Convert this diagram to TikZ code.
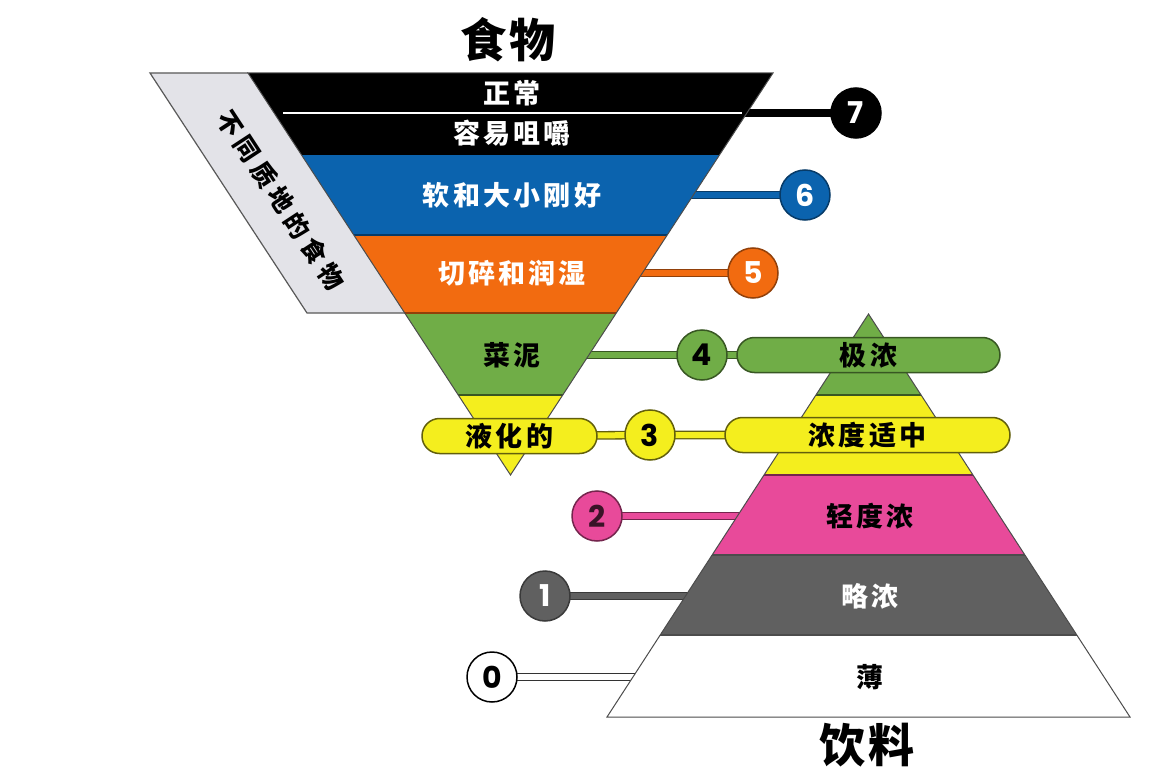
\documentclass[tikz,border=0pt]{standalone}
\usepackage{fontspec}
\setmainfont{Noto Sans CJK SC}
\newfontfamily\numfont{Poppins}
\usetikzlibrary{shapes.misc}
\pgfdeclarelayer{bg}
\pgfdeclarelayer{conn}
\pgfdeclarelayer{tri}
\pgfsetlayers{bg,conn,tri,main}
\definecolor{cblue}{HTML}{0B63AE}
\definecolor{corange}{HTML}{F26B10}
\definecolor{cgreen}{HTML}{70AD47}
\definecolor{cyellow}{HTML}{F4EE1E}
\definecolor{cpink}{HTML}{E84A9A}
\definecolor{cgray}{HTML}{606060}
\definecolor{cpanel}{HTML}{E3E3E8}
\begin{document}
\begin{tikzpicture}[x=1pt,y=-1pt,
  lvl/.style={font=\fontsize{27}{29}\selectfont\bfseries\addfontfeature{LetterSpace=12}},
  num/.style={circle, minimum size=50pt, inner sep=0pt, line width=1.5pt, font=\numfont\fontsize{30}{30}\selectfont\bfseries},
  conn/.style={line width=1.3pt, double distance=6pt},
  pill/.style={rounded rectangle, minimum height=35pt, inner sep=0pt, line width=1.5pt, lvl},
  title/.style={font=\fontsize{46}{48}\selectfont\bfseries\addfontfeature{LetterSpace=5}},
  side/.style={font=\fontsize{25}{27}\selectfont\bfseries\addfontfeature{LetterSpace=22}},
  band/.style={line width=1.2pt}]
\begin{pgfonlayer}{bg}
\useasboundingbox[fill=white] (0,0) rectangle (1160,773);
\end{pgfonlayer}

% edge coordinates
\coordinate (e7) at (730,113);
\coordinate (e6) at (680,195);
\coordinate (e5) at (630,273);
\coordinate (e4) at (575,355);
\coordinate (e2) at (752,516);
\coordinate (e1) at (700,596);
\coordinate (e0) at (648,677);

% triangles
\begin{pgfonlayer}{tri}
\fill[cpanel] (150,73) -- (248,73) -- (405,313) -- (307,313) -- cycle;
\draw[black!65, line width=1.2pt] (248,73) -- (150,73) -- (307,313) -- (405,313);
\begin{scope}
\clip (248,73) -- (773,73) -- (510.5,475) -- cycle;
\fill[black] (200,73) rectangle (800,155);
\fill[cblue] (200,155) rectangle (800,235);
\fill[corange] (200,235) rectangle (800,313);
\fill[cgreen] (200,313) rectangle (800,395);
\fill[cyellow] (200,395) rectangle (800,476);
\draw[band, cblue!60!black] (200,235) -- (800,235);
\draw[band, corange!60!black] (200,313) -- (800,313);
\draw[band, cgreen!50!black] (200,395) -- (800,395);
\end{scope}
\draw[white, line width=1.5pt] (283,113) -- (742,113);
\draw[black!70, line width=1pt] (248,73) -- (773,73) -- (510.5,475) -- cycle;
\begin{scope}
\clip (868.5,314) -- (1130,717) -- (607,717) -- cycle;
\fill[cgreen] (600,314) rectangle (1140,395);
\fill[cyellow] (600,395) rectangle (1140,475);
\fill[cpink] (600,475) rectangle (1140,555);
\fill[cgray] (600,555) rectangle (1140,635);
\fill[white] (600,635) rectangle (1140,717);
\draw[band, cgreen!50!black] (600,395) -- (1140,395);
\draw[band, cpink!50!black] (600,475) -- (1140,475);
\draw[band, black!70] (600,555) -- (1140,555);
\draw[band, black!70] (600,635) -- (1140,635);
\end{scope}
\draw[black!70, line width=1pt] (868.5,314) -- (1130,717) -- (607,717) -- cycle;
\end{pgfonlayer}

% titles and labels
\node[title] (tf) at (508,40) {食物};
\node[title] (td) at (867,745) {饮料};
\node[side, rotate=-56.8] (side) at (281,200) {不同质地的食物};

\node[lvl, text=white] (l7a) at (512,93) {正常};
\node[lvl, text=white] (l7b) at (512,133) {容易咀嚼};
\node[lvl, text=white] (l6) at (512,195) {软和大小刚好};
\node[lvl, text=white] (l5) at (512,273) {切碎和润湿};
\node[lvl] (l4) at (512,355) {菜泥};
\node[lvl] (d2) at (870,516) {轻度浓};
\node[lvl, text=white] (d1) at (870,596) {略浓};
\node[lvl] (d0) at (870,677) {薄};

% pills
\node[pill, fill=cgreen, draw=cgreen!50!black, minimum width=263pt] (p4) at (868.5,355) {极浓};
\node[pill, fill=cyellow, draw=cyellow!40!black, minimum width=285pt] (p3r) at (867.5,435) {浓度适中};
\node[pill, fill=cyellow, draw=cyellow!40!black, minimum width=175pt] (p3l) at (509.5,436) {液化的};

% circles
\node[num, fill=black, draw=black, text=white] (c7) at (856,113) {7};
\node[num, fill=cblue, draw=cblue!60!black, text=white] (c6) at (805,195) {6};
\node[num, fill=corange, draw=corange!60!black, text=white] (c5) at (753,273) {5};
\node[num, fill=cgreen, draw=cgreen!50!black, text=black] (c4) at (702,355) {4};
\node[num, fill=cyellow, draw=cyellow!40!black, text=black] (c3) at (650,435) {3};
\node[num, fill=cpink, draw=cpink!50!black, text=black!75!cpink] (c2) at (597,516) {2};
\node[num, fill=cgray, draw=cgray!60!black, text=white] (c1) at (545,596) {1};
\node[num, fill=white, draw=black, text=black] (c0) at (492,677) {0};

% connectors
\begin{pgfonlayer}{conn}
\draw[conn, draw=black, double=black] (e7) -- (c7.center);
\draw[conn, draw=cblue!60!black, double=cblue] (e6) -- (c6.center);
\draw[conn, draw=corange!60!black, double=corange] (e5) -- (c5.center);
\draw[conn, draw=cgreen!50!black, double=cgreen] (e4) -- (c4.center) -- (p4.center);
\draw[conn, draw=cyellow!40!black, double=cyellow] (p3l.center) -- (c3.center) -- (p3r.center);
\draw[conn, draw=cpink!50!black, double=cpink] (e2) -- (c2.center);
\draw[conn, draw=cgray!60!black, double=cgray] (e1) -- (c1.center);
\draw[conn, draw=black!80, double=white] (e0) -- (c0.center);
\end{pgfonlayer}
\end{tikzpicture}
\end{document}
